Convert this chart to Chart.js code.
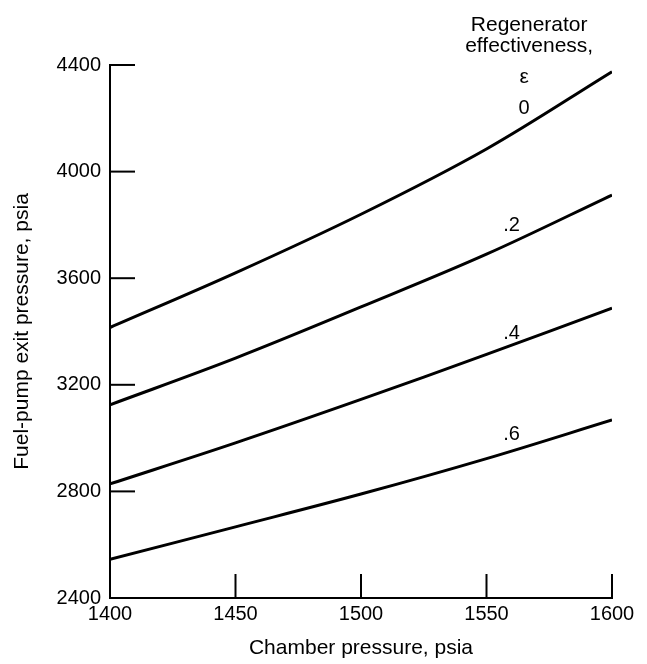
<!DOCTYPE html>
<html>
<head>
<meta charset="utf-8">
<script src="https://cdn.jsdelivr.net/npm/chart.js@4"></script>
<style>
    html, body { margin: 0; padding: 0; background: #fff; }
    #wrap { width: 647px; height: 664px; }
</style>
</head>
<body>
<div id="wrap"><canvas id="pumpChart" width="647" height="664"></canvas></div>
<script>
// Chamber pressure (psia) on x
const chamberPressure = [1400, 1450, 1500, 1550, 1600];

// Fuel-pump exit pressure (psia), one list per regenerator effectiveness
const effLabels = ['0', '.2', '.4', '.6'];
const exitEff0 = [3415, 3620, 3840, 4085, 4375];
const exitEff2 = [3125, 3300, 3492, 3690, 3912];
const exitEff4 = [2828, 2982, 3145, 3314, 3488];
const exitEff6 = [2545, 2667, 2790, 2923, 3068];

const xTicks = [1400, 1450, 1500, 1550, 1600];
const yTicks = [2400, 2800, 3200, 3600, 4000, 4400];

// where the curve labels sit (data units)
const labelAtX = [1565, 1560, 1560, 1560];
const labelAtY = [4235, 3796, 3394, 3012];

const FONT = '"Liberation Sans", Arial, Helvetica, sans-serif';

const series = [exitEff0, exitEff2, exitEff4, exitEff6];

// inward tick marks + text annotations
const annotate = {
    id: 'annotate',
    afterDraw(chart) {
        const { ctx, scales: { x, y } } = chart;
        ctx.save();
        ctx.strokeStyle = '#000';
        ctx.lineWidth = 2;
        // x ticks point up into the plot
        xTicks.slice(1).forEach(v => {
            const px = x.getPixelForValue(v);
            ctx.beginPath();
            ctx.moveTo(px, y.bottom);
            ctx.lineTo(px, y.bottom - 24);
            ctx.stroke();
        });
        // y ticks point right into the plot
        yTicks.slice(1).forEach(v => {
            const py = y.getPixelForValue(v);
            ctx.beginPath();
            ctx.moveTo(x.left, py);
            ctx.lineTo(x.left + 25, py);
            ctx.stroke();
        });

        ctx.fillStyle = '#000';
        ctx.textAlign = 'center';
        ctx.textBaseline = 'middle';
        ctx.font = `21px ${FONT}`;
        ctx.fillText('Regenerator', x.getPixelForValue(1567), y.getPixelForValue(4550));
        ctx.fillText('effectiveness,', x.getPixelForValue(1567), y.getPixelForValue(4471));
        ctx.fillText('ε', x.getPixelForValue(1565), y.getPixelForValue(4355));

        ctx.font = `20px ${FONT}`;
        effLabels.forEach((t, i) => {
            ctx.fillText(t, x.getPixelForValue(labelAtX[i]), y.getPixelForValue(labelAtY[i]));
        });
        ctx.restore();
    }
};

new Chart(document.getElementById('pumpChart'), {
    type: 'line',
    data: {
        datasets: series.map((vals, i) => ({
            label: effLabels[i],
            data: chamberPressure.map((p, j) => ({ x: p, y: vals[j] })),
            borderColor: '#000',
            borderWidth: 3,
            pointRadius: 0,
            fill: false,
            tension: 0.35
        }))
    },
    options: {
        responsive: false,
        animation: false,
        layout: { padding: { left: 0, right: 35, top: 65, bottom: 0 } },
        plugins: { legend: { display: false }, tooltip: { enabled: false } },
        scales: {
            x: {
                type: 'linear',
                min: 1400,
                max: 1600,
                afterBuildTicks: s => { s.ticks = xTicks.map(v => ({ value: v })); },
                afterFit: s => { s.height = 66; },
                grid: { drawOnChartArea: false, drawTicks: false },
                border: { display: true, color: '#000', width: 2 },
                ticks: {
                    color: '#000', padding: 4, maxRotation: 0,
                    font: { family: FONT, size: 20 },
                    callback: v => String(v)
                },
                title: {
                    display: true,
                    text: 'Chamber pressure, psia',
                    color: '#000',
                    font: { family: FONT, size: 21 },
                    padding: { top: 0, bottom: 3 }
                }
            },
            y: {
                type: 'linear',
                min: 2400,
                max: 4400,
                afterBuildTicks: s => { s.ticks = yTicks.map(v => ({ value: v })); },
                afterFit: s => { s.width = 110; },
                grid: { drawOnChartArea: false, drawTicks: false },
                border: { display: true, color: '#000', width: 2 },
                ticks: {
                    color: '#000', padding: 9,
                    font: { family: FONT, size: 20 },
                    callback: v => String(v)
                },
                title: {
                    display: true,
                    text: 'Fuel-pump exit pressure, psia',
                    color: '#000',
                    font: { family: FONT, size: 21 },
                    padding: { top: 10, bottom: 0 }
                }
            }
        }
    },
    plugins: [annotate]
});
</script>
</body>
</html>
